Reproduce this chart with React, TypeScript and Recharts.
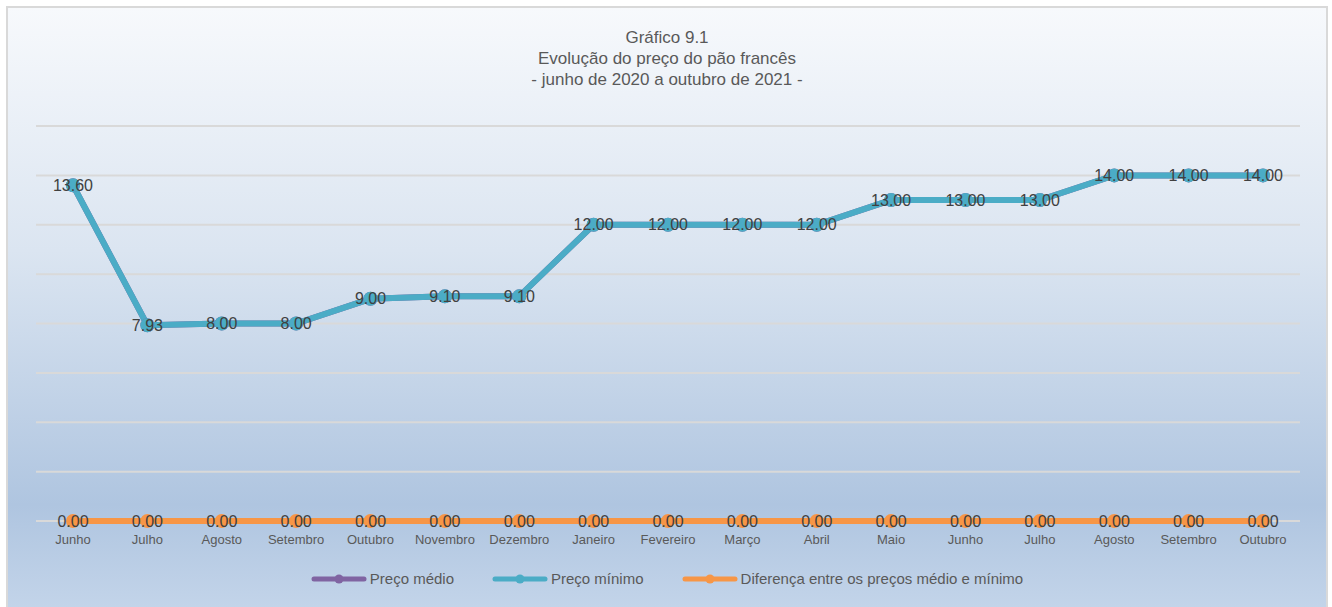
import { CartesianGrid, LabelList, Line, LineChart, XAxis, YAxis } from "recharts"

const meses = [
  "Junho", "Julho", "Agosto", "Setembro", "Outubro", "Novembro", "Dezembro",
  "Janeiro", "Fevereiro", "Março", "Abril", "Maio", "Junho", "Julho",
  "Agosto", "Setembro", "Outubro",
]
const precoMinimo = [13.6, 7.93, 8.0, 8.0, 9.0, 9.1, 9.1, 12.0, 12.0, 12.0, 12.0, 13.0, 13.0, 13.0, 14.0, 14.0, 14.0]
const precoMedio = [13.6, 7.93, 8.0, 8.0, 9.0, 9.1, 9.1, 12.0, 12.0, 12.0, 12.0, 13.0, 13.0, 13.0, 14.0, 14.0, 14.0]
const diferenca = [0, 0, 0, 0, 0, 0, 0, 0, 0, 0, 0, 0, 0, 0, 0, 0, 0]
const yTicks = [0, 2, 4, 6, 8, 10, 12, 14, 16]

const series = [
  { key: "medio", name: "Preço médio", color: "#8064a2" },
  { key: "minimo", name: "Preço mínimo", color: "#4bacc6" },
  { key: "dif", name: "Diferença entre os preços médio e mínimo", color: "#f79646" },
]

const chartData = meses.map((mes, i) => ({
  mes,
  medio: precoMedio[i],
  minimo: precoMinimo[i],
  dif: diferenca[i],
}))

const labelFont = "'Liberation Sans', Arial, sans-serif"
const fmt = (v: any) => Number(v).toFixed(2)

export default function App() {
  return (
    <div
      style={{
        position: "absolute",
        left: 6,
        top: 6,
        width: 1322,
        height: 610,
        border: "2px solid #d9d9d9",
        boxSizing: "border-box",
        background: "linear-gradient(to bottom, #f7f9fc 0%, #dbe5f1 40%, #afc5e0 82%, #c4d5ea 100%)",
        fontFamily: labelFont,
      }}
    >
      <div
        style={{
          position: "absolute",
          top: 19,
          left: 0,
          width: "100%",
          textAlign: "center",
          color: "#595959",
          fontSize: 17,
          lineHeight: "21px",
        }}
      >
        <div>Gráfico 9.1</div>
        <div>Evolução do preço do pão francês</div>
        <div>- junho de 2020 a outubro de 2021 -</div>
      </div>
      <div style={{ position: "absolute", left: -2, top: -2 }}>
        <LineChart width={1324} height={560} data={chartData} margin={{ top: 120, right: 30, bottom: 15, left: 30 }}>
          <CartesianGrid vertical={false} stroke="#d9d9d9" strokeWidth={2} />
          <XAxis
            dataKey="mes"
            axisLine={false}
            tickLine={false}
            height={30}
            padding={{ left: 37, right: 37 }}
            tick={{ fill: "#595959", fontSize: 13, fontFamily: "'Liberation Sans Narrow', 'Liberation Sans', sans-serif" }}
            tickMargin={8}
            interval={0}
          />
          <YAxis hide domain={[0, 16]} ticks={yTicks} />
          <Line
            dataKey="medio"
            name="Preço médio"
            stroke="#8064a2"
            strokeWidth={6}
            dot={{ r: 7, fill: "#8064a2", stroke: "none" }}
            isAnimationActive={false}
          />
          <Line
            dataKey="minimo"
            name="Preço mínimo"
            stroke="#4bacc6"
            strokeWidth={6}
            dot={{ r: 7, fill: "#4bacc6", stroke: "none" }}
            isAnimationActive={false}
          >
            <LabelList dataKey="minimo" position="center" formatter={fmt} fill="#404040" fontSize={16} fontFamily={labelFont} />
          </Line>
          <Line
            dataKey="dif"
            name="Diferença entre os preços médio e mínimo"
            stroke="#f79646"
            strokeWidth={6}
            dot={{ r: 7, fill: "#f79646", stroke: "none" }}
            isAnimationActive={false}
          >
            <LabelList dataKey="dif" position="center" formatter={fmt} fill="#404040" fontSize={16} fontFamily={labelFont} />
          </Line>
        </LineChart>
      </div>
      <div
        style={{
          position: "absolute",
          top: 562,
          left: 0,
          width: "100%",
          display: "flex",
          justifyContent: "center",
          gap: 38,
          color: "#595959",
          fontSize: 15,
          fontFamily: labelFont,
        }}
      >
        {series.map((s) => (
          <div key={s.key} style={{ display: "flex", alignItems: "center" }}>
            <svg width={56} height={16} style={{ marginRight: 3 }}>
              <line x1={3} y1={8} x2={53} y2={8} stroke={s.color} strokeWidth={5} strokeLinecap="round" />
              <circle cx={28} cy={8} r={4.5} fill={s.color} />
            </svg>
            <span>{s.name}</span>
          </div>
        ))}
      </div>
    </div>
  )
}
